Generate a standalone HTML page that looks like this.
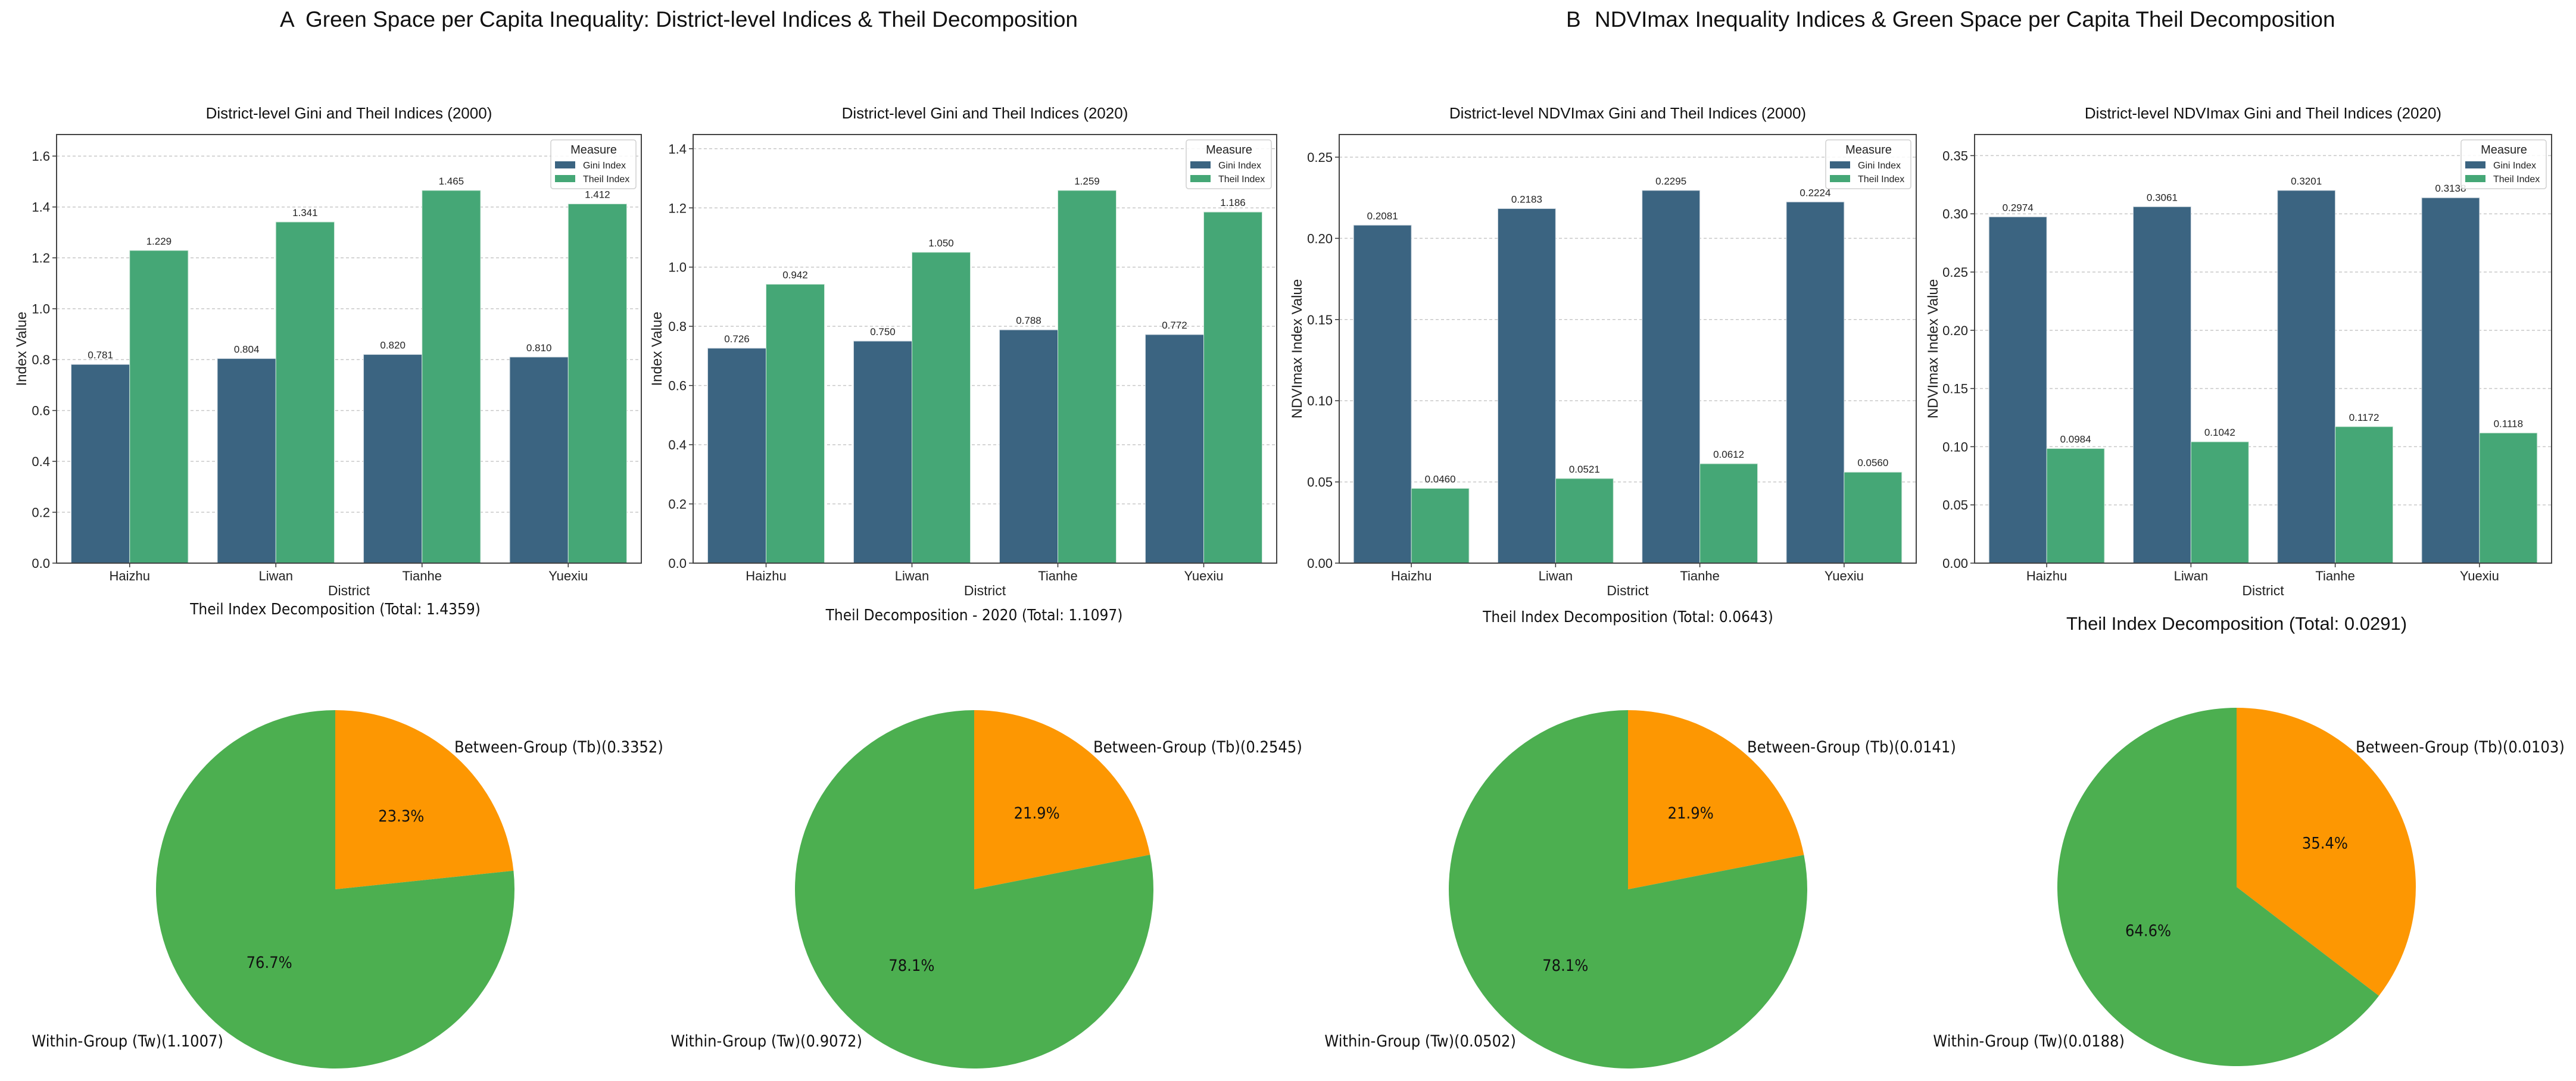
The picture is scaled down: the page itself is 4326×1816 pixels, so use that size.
<!DOCTYPE html>
<html><head><meta charset="utf-8">
<style>
html,body{margin:0;padding:0;background:#fff;}
svg{display:block;font-family:"Liberation Sans",Arial,sans-serif;}
.pie-txt{font-family:"Liberation Sans Narrow","DejaVu Sans Condensed","Liberation Sans",sans-serif;}
</style></head>
<body>
<svg id="fig" width="4326" height="1816" viewBox="0 0 4326 1816" xmlns="http://www.w3.org/2000/svg">
<rect width="4326" height="1816" fill="#fff"/>
<text x="470" y="45" font-size="37" fill="#111">A</text>
<text x="513" y="45" font-size="37" fill="#111">Green Space per Capita Inequality: District-level Indices &amp; Theil Decomposition</text>
<text x="2630" y="45" font-size="37" fill="#111">B</text>
<text x="2678" y="45" font-size="37" fill="#111">NDVImax Inequality Indices &amp; Green Space per Capita Theil Decomposition</text>
</svg>
<script>
const categories = ["Haizhu","Liwan","Tianhe","Yuexiu"];
const gini2000 = [0.781,0.804,0.820,0.810];
const theil2000 = [1.229,1.341,1.465,1.412];
const gini2020 = [0.726,0.750,0.788,0.772];
const theil2020 = [0.942,1.050,1.259,1.186];
const ndviGini2000 = [0.2081,0.2183,0.2295,0.2224];
const ndviTheil2000 = [0.0460,0.0521,0.0612,0.0560];
const ndviGini2020 = [0.2974,0.3061,0.3201,0.3138];
const ndviTheil2020 = [0.0984,0.1042,0.1172,0.1118];
const ticks1 = [0,0.2,0.4,0.6,0.8,1.0,1.2,1.4,1.6];
const ticks2 = [0,0.2,0.4,0.6,0.8,1.0,1.2,1.4];
const ticks3 = [0,0.05,0.10,0.15,0.20,0.25];
const ticks4 = [0,0.05,0.10,0.15,0.20,0.25,0.30,0.35];
const pieBetween = [0.3352,0.2545,0.0141,0.0103];
const pieWithin = [1.1007,0.9072,0.0502,0.0188];
const pieTotals = ["1.4359","1.1097","0.0643","0.0291"];
const pieTitles = ["Theil Index Decomposition (Total: ","Theil Decomposition - 2020 (Total: ","Theil Index Decomposition (Total: ","Theil Index Decomposition (Total: "];

const NS="http://www.w3.org/2000/svg";
const svg=document.getElementById('fig');
function mk(tag,attrs,parent){const e=document.createElementNS(NS,tag);for(const k in attrs)e.setAttribute(k,attrs[k]);(parent||svg).appendChild(e);return e;}
function txt(s,attrs,parent){const e=mk('text',attrs,parent);e.textContent=s;return e;}

const panels=[
 {L:95,R:1077,title:"District-level Gini and Theil Indices (2000)",g:gini2000,t:theil2000,ticks:ticks1,dec:1,vdec:3,ylab:"Index Value",ylx:36},
 {L:1164,R:2144,title:"District-level Gini and Theil Indices (2020)",g:gini2020,t:theil2020,ticks:ticks2,dec:1,vdec:3,ylab:"Index Value",ylx:1103},
 {L:2249,R:3218,title:"District-level NDVImax Gini and Theil Indices (2000)",g:ndviGini2000,t:ndviTheil2000,ticks:ticks3,dec:2,vdec:4,ylab:"NDVImax Index Value",ylx:2178},
 {L:3316,R:4285,title:"District-level NDVImax Gini and Theil Indices (2020)",g:ndviGini2020,t:ndviTheil2020,ticks:ticks4,dec:2,vdec:4,ylab:"NDVImax Index Value",ylx:3246}
];
const TOP=226,BOT=946;
panels.forEach((p,pi)=>{
  const grp=mk('g',{});
  
  
  const ymax=Math.max(...p.g,...p.t)*1.15;
  const y=v=>BOT-(v/ymax)*(BOT-TOP);
  const cw=(p.R-p.L)/categories.length;
  const x=i=>p.L+cw*(i+0.5);
  const bw=cw*0.4;
  const tt=txt(p.title,{x:(p.L+p.R)/2,y:199,'font-size':26,'text-anchor':'middle',fill:'#111'},grp);
  
  
  p.ticks.forEach(v=>{
    const gl=mk('line',{x1:p.L,x2:p.R,y1:y(v),y2:y(v),stroke:'#c8c8c8','stroke-width':1.5,'stroke-dasharray':'5,4'},grp);
    
    
    mk('line',{x1:p.L-7,x2:p.L,y1:y(v),y2:y(v),stroke:'#333','stroke-width':1.5},grp);
    const tl=txt(v.toFixed(p.dec),{x:p.L-11,y:y(v)+8,'font-size':22,'text-anchor':'end',fill:'#222'},grp);
    
    
  });
  categories.forEach((c,i)=>{
    const bg=mk('rect',{x:x(i)-bw,y:y(p.g[i]),width:bw,height:BOT-y(p.g[i]),fill:'#3b6481',stroke:'#cfd8e0','stroke-width':1},grp);
    
    
    const bt=mk('rect',{x:x(i),y:y(p.t[i]),width:bw,height:BOT-y(p.t[i]),fill:'#45a776',stroke:'#cfe8da','stroke-width':1},grp);
    
    
    const lg=txt(p.g[i].toFixed(p.vdec),{x:x(i)-bw/2,y:y(p.g[i])-10,'font-size':17,'text-anchor':'middle',fill:'#222'},grp);
    
    
    const lt=txt(p.t[i].toFixed(p.vdec),{x:x(i)+bw/2,y:y(p.t[i])-10,'font-size':17,'text-anchor':'middle',fill:'#222'},grp);
    
    
    mk('line',{x1:x(i),x2:x(i),y1:BOT,y2:BOT+7,stroke:'#333','stroke-width':1.5},grp);
    const xl=txt(c,{x:x(i),y:975,'font-size':22,'text-anchor':'middle',fill:'#222'},grp);
    
    
  });
  const fr=mk('rect',{x:p.L,y:TOP,width:p.R-p.L,height:BOT-TOP,fill:'none',stroke:'#444','stroke-width':2},grp);
  
  
  const xt=txt('District',{x:(p.L+p.R)/2,y:1000,'font-size':23,'text-anchor':'middle',fill:'#222'},grp);
  
  
  const yt=txt(p.ylab,{x:0,y:0,'font-size':24,'text-anchor':'middle',fill:'#222',transform:'translate('+(p.ylx+8)+','+((TOP+BOT)/2)+') rotate(-90)'},grp);
  
  
  // legend
  const lx=p.R-152, ly=235;
  const lgd=mk('g',{},grp);
  
  
  mk('rect',{x:lx,y:ly,width:143,height:82,rx:4,fill:'#fff','fill-opacity':0.85,stroke:'#d0d0d0','stroke-width':1.5},lgd);
  txt('Measure',{x:lx+72,y:ly+23,'font-size':20,'text-anchor':'middle',fill:'#222'},lgd);
  const e1=mk('g',{},lgd);
  
  
  mk('rect',{x:lx+7,y:ly+36,width:34,height:12,fill:'#3b6481'},e1);
  txt('Gini Index',{x:lx+54,y:ly+48,'font-size':16,fill:'#222'},e1);
  const e2=mk('g',{},lgd);
  
  
  mk('rect',{x:lx+7,y:ly+59,width:34,height:12,fill:'#45a776'},e2);
  txt('Theil Index',{x:lx+54,y:ly+71,'font-size':16,fill:'#222'},e2);
});

// pies
const pieCx=[563,1636,2734,3756];
const pieCy=[1494,1494,1494,1490];
const pieTitleY=[1032,1042,1045,1058];
pieBetween.forEach((b,pi)=>{
  const w=pieWithin[pi];
  const grp=mk('g',{});
  
  
  const cx=pieCx[pi],cy=pieCy[pi],r=301;
  const tot=b+w, fb=b/tot;
  const big=pi===3;
  const t=txt(pieTitles[pi]+pieTotals[pi]+')',{x:cx,y:pieTitleY[pi],'font-size':big?31:26,'text-anchor':'middle',fill:'#111','class':big?'':'pie-txt'},grp);
  
  
  const a0=Math.PI/2, a1=a0-fb*2*Math.PI;
  const pt=a=>[cx+r*Math.cos(a),cy-r*Math.sin(a)];
  const p0=pt(a0),p1=pt(a1);
  const sb=mk('path',{d:`M${cx},${cy} L${p0[0]},${p0[1]} A${r},${r} 0 ${fb>0.5?1:0} 1 ${p1[0]},${p1[1]} Z`,fill:'#fd9702'},grp);
  
  
  const sw=mk('path',{d:`M${cx},${cy} L${p1[0]},${p1[1]} A${r},${r} 0 ${fb<0.5?1:0} 1 ${p0[0]},${p0[1]} Z`,fill:'#4caf50'},grp);
  
  
  const mb=(a0+a1)/2, mw=(a1+a0-2*Math.PI)/2;
  const pb=txt((fb*100).toFixed(1)+'%',{x:cx+0.55*r*Math.cos(mb),y:cy-0.55*r*Math.sin(mb)+9,'font-size':27,'text-anchor':'middle',fill:'#111','class':'pie-txt'},grp);
  
  
  const pw=txt(((1-fb)*100).toFixed(1)+'%',{x:cx+0.55*r*Math.cos(mw),y:cy-0.55*r*Math.sin(mw)+9,'font-size':27,'text-anchor':'middle',fill:'#111','class':'pie-txt'},grp);
  
  
  const lb=txt('Between-Group (Tb)('+b.toFixed(4)+')',{x:cx+200,y:1264,'font-size':27,fill:'#111','class':'pie-txt'},grp);
  
  
  const lw=txt('Within-Group (Tw)('+w.toFixed(4)+')',{x:cx-188,y:1758,'font-size':27,'text-anchor':'end',fill:'#111','class':'pie-txt'},grp);
  
  
});
</script>
</body></html>
